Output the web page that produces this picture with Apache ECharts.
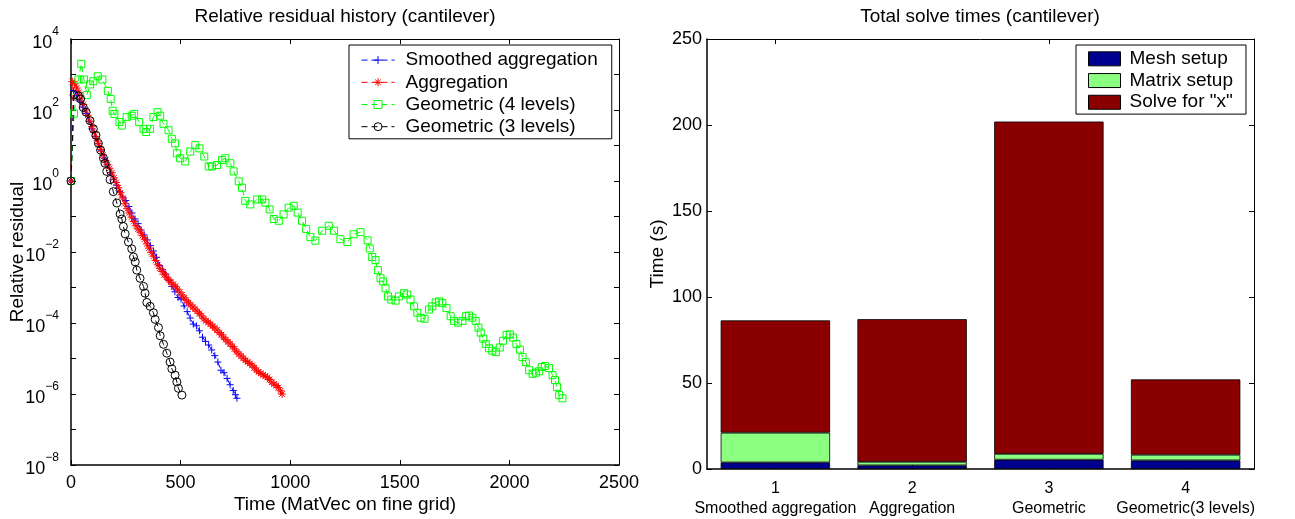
<!DOCTYPE html>
<html><head><meta charset="utf-8">
<script src="https://cdn.jsdelivr.net/npm/echarts@6/dist/echarts.min.js"></script>
<style>html,body{margin:0;padding:0;background:#fff}#c{width:1295px;height:519px}</style>
</head><body><div id="c"></div>
<script>
// ---------- Left chart: relative residual history (log10 of residual) ----------
const saX = [0,12,26,40,54,68,82,96,110,124,138,152,166,180,194,208,222,236,250,264,278,292,306,320,334,348,362,376,390,404,418,432,446,460,474,488,502,516,530,544,558,572,586,600,614,628,642,656,670,684,698,712,726,740,750,757];
const saLog10 = [0,2.55,2.42,2.25,2.08,1.90,1.68,1.47,1.25,1.05,0.85,0.64,0.45,0.24,0.05,-0.12,-0.30,-0.45,-0.55,-0.72,-0.90,-1.07,-1.20,-1.38,-1.52,-1.66,-1.82,-1.97,-2.15,-2.38,-2.50,-2.62,-2.80,-2.97,-3.12,-3.28,-3.33,-3.52,-3.68,-3.86,-4.03,-4.08,-4.22,-4.40,-4.52,-4.62,-4.76,-4.92,-5.10,-5.33,-5.40,-5.56,-5.74,-5.90,-6.02,-6.12];

const aggX = [0,6,16,26,36,46,56,66,76,86,96,106,116,126,136,146,156,166,176,186,196,206,216,226,236,246,256,266,276,286,296,306,316,326,336,346,356,366,376,386,396,406,416,426,436,446,456,466,476,486,496,506,516,526,536,546,556,566,576,586,596,606,616,626,636,646,656,666,676,686,696,706,716,726,736,746,756,766,776,786,796,806,816,826,836,846,856,866,876,886,896,906,916,926,936,946,956,963];
const aggLog10 = [0,2.80,2.74,2.62,2.50,2.33,2.16,2.00,1.85,1.69,1.53,1.36,1.20,1.05,0.89,0.73,0.58,0.47,0.36,0.23,0.09,-0.04,-0.19,-0.33,-0.48,-0.64,-0.78,-0.90,-1.02,-1.14,-1.26,-1.35,-1.44,-1.54,-1.64,-1.77,-1.89,-2.01,-2.12,-2.24,-2.36,-2.46,-2.55,-2.64,-2.71,-2.78,-2.85,-2.91,-2.97,-3.05,-3.13,-3.21,-3.29,-3.36,-3.43,-3.49,-3.55,-3.61,-3.67,-3.73,-3.80,-3.88,-3.94,-3.98,-4.03,-4.09,-4.14,-4.20,-4.27,-4.33,-4.40,-4.47,-4.53,-4.59,-4.66,-4.73,-4.81,-4.87,-4.93,-4.99,-5.05,-5.10,-5.14,-5.19,-5.26,-5.33,-5.38,-5.42,-5.46,-5.50,-5.53,-5.59,-5.67,-5.72,-5.76,-5.82,-5.91,-6.00];

const geo4X = [0,14,34,47,59,72,87,102,122,143,168,181,190,198,221,232,254,277,288,311,331,343,361,376,395,407,422,445,460,475,483,498,521,544,567,586,608,628,643,666,689,704,727,742,765,780,795,818,849,872,887,906,925,948,970,993,1016,1034,1054,1073,1092,1115,1146,1176,1200,1229,1261,1289,1321,1353,1363,1374,1389,1400,1412,1424,1435,1446,1461,1481,1496,1519,1534,1549,1565,1580,1595,1613,1633,1648,1664,1679,1694,1713,1732,1747,1766,1786,1801,1816,1831,1846,1859,1869,1881,1892,1907,1922,1938,1956,1971,1987,2002,2017,2032,2048,2060,2075,2090,2106,2121,2136,2147,2162,2181,2197,2208,2217,2227,2242];
const geo4Log10 = [0,1.90,2.86,3.30,2.86,2.42,2.72,2.81,2.95,2.86,2.54,2.31,1.98,1.89,1.66,1.56,1.80,1.84,1.89,1.66,1.47,1.38,1.47,1.80,1.94,1.84,1.61,1.43,1.19,1.06,0.78,0.64,0.55,0.83,1.01,0.92,0.69,0.41,0.41,0.45,0.59,0.64,0.50,0.27,-0.01,-0.19,-0.56,-0.66,-0.52,-0.52,-0.61,-0.80,-1.07,-1.12,-0.94,-0.75,-0.70,-0.89,-1.12,-1.35,-1.58,-1.68,-1.40,-1.26,-1.40,-1.64,-1.72,-1.50,-1.44,-1.67,-1.90,-2.14,-2.23,-2.51,-2.74,-2.83,-3.02,-3.25,-3.34,-3.37,-3.25,-3.16,-3.20,-3.34,-3.53,-3.71,-3.85,-3.88,-3.62,-3.53,-3.42,-3.39,-3.44,-3.58,-3.81,-3.94,-3.99,-3.94,-3.81,-3.79,-3.85,-3.94,-4.13,-4.27,-4.44,-4.59,-4.71,-4.78,-4.82,-4.69,-4.50,-4.34,-4.32,-4.41,-4.59,-4.75,-4.96,-5.10,-5.33,-5.43,-5.40,-5.36,-5.24,-5.21,-5.27,-5.47,-5.61,-5.80,-6.03,-6.12];

const geo3X = [0,14,34,44,56,69,87,102,114,125,135,148,155,163,178,193,209,224,232,239,247,262,277,285,293,300,315,331,338,346,361,376,384,399,407,422,437,452,460,475,483,490,506];
const geo3Log10 = [0,2.43,2.40,2.31,2.07,1.94,1.70,1.47,1.29,1.06,0.87,0.64,0.50,0.27,0.04,-0.30,-0.62,-0.93,-1.07,-1.28,-1.49,-1.72,-1.91,-2.14,-2.28,-2.51,-2.74,-2.97,-3.16,-3.42,-3.53,-3.71,-3.90,-4.13,-4.36,-4.60,-4.85,-5.10,-5.29,-5.47,-5.66,-5.84,-6.03];

const lineNames = ['Smoothed aggregation','Aggregation','Geometric (4 levels)','Geometric (3 levels)'];
const timeTicks = [0, 2500, 500];        // min, max, step of the x axis
const residExpTicks = [-8, 4, 1];        // min, max, step of exponent axis

// ---------- Right chart: total solve times ----------
const methods = ['Smoothed aggregation','Aggregation','Geometric','Geometric(3 levels)'];
const partNames = ['Mesh setup','Matrix setup','Solve for "x"'];
const meshSetup = [3.8, 2.1, 5.4, 5.0];
const matrixSetup = [17.3, 2.1, 3.4, 3.3];
const solveX = [65.3, 82.9, 193.2, 43.8];
const timeAxisTicks = [0, 250, 50];

// ---------- build ----------
const FONT = 'Liberation Sans, Arial, Helvetica, sans-serif';
const FS = 19;
function pairs(xs, ys) { return xs.map((x, i) => [x, ys[i]]); }
const plusPath = 'path://M5,0L5,10M0,5L10,5';
const starPath = 'path://M5,0L5,10M0,5L10,5M1.5,1.5L8.5,8.5M8.5,1.5L1.5,8.5';
const dash = [6, 4];

function lineSeries(name, xs, ys, color, symbol, size) {
  return {
    name: name, type: 'line', xAxisIndex: 0, yAxisIndex: 0,
    data: pairs(xs, ys), symbol: symbol, symbolSize: size,
    showAllSymbol: true, clip: true,
    itemStyle: { color: 'rgba(0,0,0,0)', borderColor: color, borderWidth: 1 },
    lineStyle: { color: color, width: 1, type: dash },
    emphasis: { disabled: true }
  };
}

const tickInside = { show: true, inside: true, length: 5, lineStyle: { color: '#000', width: 1 } };
const axLine = w => ({ show: true, onZero: false, lineStyle: { color: '#000', width: w } });
const lbl = { color: '#000', fontSize: 18, fontFamily: FONT };

function expLabel(v) {
  const e = Math.round(v);
  if (e % 2 !== 0) return '';
  const s = e < 0 ? '\u2212' + (-e) : String(e);
  return '{b|10}{s|' + s + '}';
}

const option = {
  animation: false,
  textStyle: { fontFamily: FONT, color: '#000' },
  title: [
    { text: 'Relative residual history (cantilever)', left: 345, top: 7, textAlign: 'center', padding: 0,
      textStyle: { fontSize: FS, fontWeight: 'normal', color: '#000', fontFamily: FONT } },
    { text: 'Total solve times (cantilever)', left: 980, top: 7, textAlign: 'center', padding: 0,
      textStyle: { fontSize: FS, fontWeight: 'normal', color: '#000', fontFamily: FONT } }
  ],
  grid: [
    { left: 71, top: 39, width: 548, height: 432 },
    { left: 707, top: 39, width: 547, height: 432 }
  ],
  legend: [
    { data: lineNames, orient: 'vertical', left: 349, top: 45, itemWidth: 33, itemHeight: 10, itemGap: 0,
      padding: [4, 14, 1, 12], borderColor: '#000', borderWidth: 1, backgroundColor: '#fff',
      itemStyle: { borderWidth: 1 }, lineStyle: { width: 1 },
      textStyle: { fontSize: FS, color: '#000', fontFamily: FONT, lineHeight: 22.2, padding: [0, 0, 0, 6] },
      selectedMode: false },
    { data: partNames, orient: 'vertical', left: 1076, top: 45, itemWidth: 32, itemHeight: 14, itemGap: 0,
      icon: 'rect', padding: [3, 13, 1, 12], borderColor: '#000', borderWidth: 1, backgroundColor: '#fff',
      itemStyle: { borderWidth: 1, borderColor: '#000' },
      textStyle: { fontSize: FS, color: '#000', fontFamily: FONT, lineHeight: 21.7, padding: [0, 0, 0, 4] },
      selectedMode: false }
  ],
  xAxis: [
    { type: 'value', gridIndex: 0, position: 'bottom', min: timeTicks[0], max: timeTicks[1], interval: timeTicks[2],
      axisLine: axLine(1.5), axisTick: tickInside, splitLine: { show: false },
      axisLabel: Object.assign({ margin: 9, formatter: v => String(v) }, lbl),
      name: 'Time (MatVec on fine grid)', nameLocation: 'middle', nameGap: 30, nameMoveOverlap: false,
      nameTextStyle: { fontSize: FS, color: '#000', fontFamily: FONT } },
    { type: 'value', gridIndex: 0, position: 'top', min: timeTicks[0], max: timeTicks[1], interval: timeTicks[2],
      axisLine: axLine(1), axisTick: tickInside, splitLine: { show: false }, axisLabel: { show: false } },
    { type: 'category', gridIndex: 1, position: 'bottom', data: methods,
      axisLine: axLine(1.5), axisTick: Object.assign({ alignWithLabel: true }, tickInside),
      axisLabel: { margin: 10, interval: 0, lineHeight: 20, color: '#000', fontSize: 16, fontFamily: FONT,
        formatter: (v, i) => (i + 1) + '\n' + v } },
    { type: 'category', gridIndex: 1, position: 'top', data: methods,
      axisLine: axLine(1), axisTick: Object.assign({ alignWithLabel: true }, tickInside), axisLabel: { show: false } }
  ],
  yAxis: [
    { type: 'value', gridIndex: 0, position: 'left', min: residExpTicks[0], max: residExpTicks[1], interval: residExpTicks[2],
      axisLine: axLine(1.5), axisTick: tickInside, splitLine: { show: false },
      axisLabel: { margin: 12, formatter: expLabel, color: '#000',
        rich: { b: { fontSize: 18, color: '#000', fontFamily: FONT, lineHeight: 26, verticalAlign: 'bottom' },
                s: { fontSize: 12, color: '#000', fontFamily: FONT, verticalAlign: 'top' } } },
      name: 'Relative residual', nameLocation: 'middle', nameGap: 44, nameMoveOverlap: false,
      nameTextStyle: { fontSize: FS, color: '#000', fontFamily: FONT } },
    { type: 'value', gridIndex: 0, position: 'right', min: residExpTicks[0], max: residExpTicks[1], interval: residExpTicks[2],
      axisLine: axLine(1), axisTick: tickInside, splitLine: { show: false }, axisLabel: { show: false } },
    { type: 'value', gridIndex: 1, position: 'left', min: timeAxisTicks[0], max: timeAxisTicks[1], interval: timeAxisTicks[2],
      axisLine: axLine(1.5), axisTick: tickInside, splitLine: { show: false },
      axisLabel: Object.assign({ margin: 5 }, lbl),
      name: 'Time (s)', nameLocation: 'middle', nameGap: 40, nameMoveOverlap: false,
      nameTextStyle: { fontSize: FS, color: '#000', fontFamily: FONT } },
    { type: 'value', gridIndex: 1, position: 'right', min: timeAxisTicks[0], max: timeAxisTicks[1], interval: timeAxisTicks[2],
      axisLine: axLine(1), axisTick: tickInside, splitLine: { show: false }, axisLabel: { show: false } }
  ],
  series: [
    lineSeries(lineNames[0], saX, saLog10, '#0000ff', plusPath, 7),
    lineSeries(lineNames[1], aggX, aggLog10, '#ff0000', starPath, 8),
    lineSeries(lineNames[2], geo4X, geo4Log10, '#00ff00', 'rect', 7),
    lineSeries(lineNames[3], geo3X, geo3Log10, '#000000', 'circle', 8),
    { name: partNames[0], type: 'bar', xAxisIndex: 2, yAxisIndex: 2, stack: 'total', barWidth: '80%', data: meshSetup,
      itemStyle: { color: '#00008f', borderColor: '#000', borderWidth: 0.8 }, emphasis: { disabled: true } },
    { name: partNames[1], type: 'bar', xAxisIndex: 2, yAxisIndex: 2, stack: 'total', barWidth: '80%', data: matrixSetup,
      itemStyle: { color: '#8cff80', borderColor: '#000', borderWidth: 0.8 }, emphasis: { disabled: true } },
    { name: partNames[2], type: 'bar', xAxisIndex: 2, yAxisIndex: 2, stack: 'total', barWidth: '80%', data: solveX,
      itemStyle: { color: '#8a0000', borderColor: '#000', borderWidth: 0.8 }, emphasis: { disabled: true } }
  ]
};
const chart = echarts.init(document.getElementById('c'));
chart.setOption(option);
</script>
</body></html>
